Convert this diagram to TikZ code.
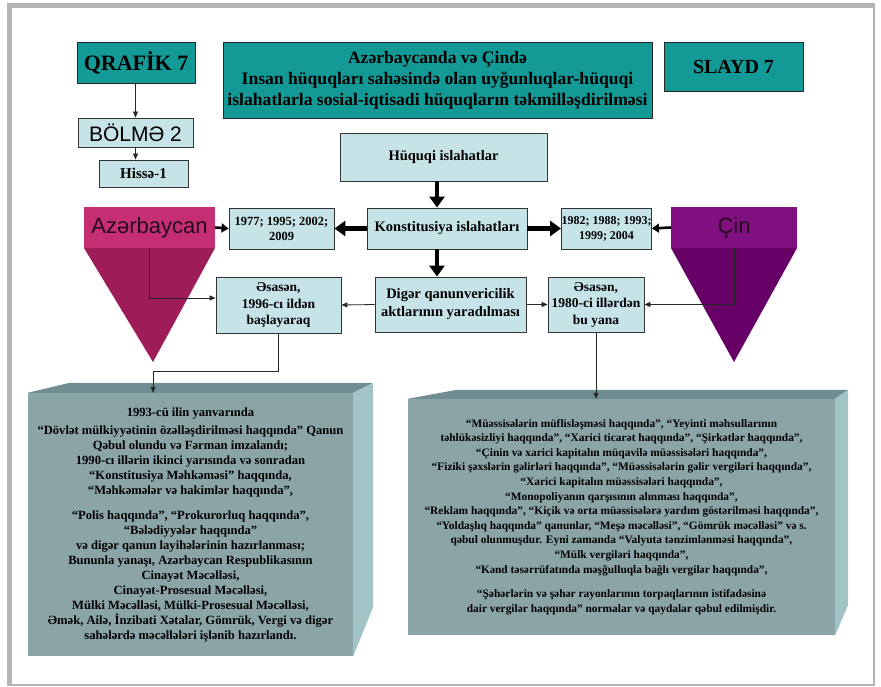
\documentclass[tikz,border=0pt]{standalone}
\usepackage{fontspec}
\setmainfont{Liberation Serif}
\setsansfont{Liberation Sans}
\usetikzlibrary{arrows.meta,calc}
\definecolor{tealc}{RGB}{20,154,150}
\definecolor{lbc}{RGB}{198,228,232}
\definecolor{framec}{RGB}{180,180,180}
\definecolor{azband}{RGB}{198,46,116}
\definecolor{aztri}{RGB}{158,28,88}
\definecolor{cinband}{RGB}{128,16,128}
\definecolor{cintri}{RGB}{102,0,102}
\definecolor{frontc}{RGB}{139,164,167}
\definecolor{topc}{RGB}{112,142,145}
\definecolor{sidec}{RGB}{162,196,199}
\definecolor{darkt}{RGB}{35,10,28}
\begin{document}
\begin{tikzpicture}[x=1pt,y=-1pt,
  tealbox/.style={draw=black!85, line width=0.9pt, fill=tealc, inner sep=0pt, align=center},
  bluebox/.style={draw=black!80, line width=0.9pt, fill=lbc, inner sep=0pt, align=center,
     font=\bfseries\fontsize{14.5}{16.5}\selectfont},
  bandbox/.style={inner sep=0pt, text=darkt, font=\sffamily\fontsize{22}{24}\selectfont},
  thinarr/.style={draw=black!85, line width=0.8pt, -{Triangle[length=6pt,width=5pt]}},
  thickarr/.style={draw=black, line width=4.5pt, -{Triangle[length=11pt,width=15pt]}},
  smallthick/.style={draw=black, line width=2.6pt, -{Triangle[length=7pt,width=9pt]}},
  bigface/.style={fill=frontc, inner sep=0pt, align=center}]
\useasboundingbox (0,0) rectangle (881,687);
\fill[white] (0,0) rectangle (881,687);
% frame
\fill[framec] (7,3) rectangle (875,8);
\fill[framec] (7,3) rectangle (12,686);
\fill[framec] (7,684) rectangle (875,686);
\fill[framec] (873,3) rectangle (875,686);

% top-left boxes
\node[tealbox, minimum width=118pt, minimum height=41pt,
  font=\bfseries\fontsize{22}{24}\selectfont] (qrafik) at (136,62.5) {QRAFİK 7};
\node[draw=black!80, line width=0.9pt, fill=lbc, inner sep=0pt, minimum width=115pt, minimum height=29pt,
  font=\sffamily\fontsize{21}{23}\selectfont] (bolme) at (135.5,132.5) {BÖLMƏ 2};
\node[bluebox, minimum width=89pt, minimum height=27pt, font=\bfseries\fontsize{15}{17}\selectfont]
  (hisse) at (143.5,173.5) {Hissə-1};
\draw[thinarr] (qrafik.south -| bolme.north) -- (bolme.north);
\draw[thinarr] (bolme.south) -- (bolme.south |- hisse.north);

% title and slide
\node[tealbox, minimum width=429pt, minimum height=76pt,
  font=\bfseries\fontsize{17.6}{21}\selectfont] (title) at (437.5,80)
  {Azərbaycanda  və Çində\\ Insan hüquqları sahəsində olan uyğunluqlar-hüquqi\\ islahatlarla sosial-iqtisadi hüquqların  təkmilləşdirilməsi};
\node[tealbox, minimum width=139pt, minimum height=49pt,
  font=\bfseries\fontsize{20}{22}\selectfont] (slayd) at (733.5,66.5) {SLAYD 7};

% central chain
\node[bluebox, minimum width=207pt, minimum height=48pt] (huquqi) at (443.5,157) {Hüquqi islahatlar};
\node[bluebox, minimum width=160pt, minimum height=41pt] (konst) at (447,228.5) {Konstitusiya islahatları};
\node[bluebox, minimum width=105pt, minimum height=41pt, font=\bfseries\fontsize{12.5}{15}\selectfont]
  (y1977) at (281.5,228.5) {1977; 1995; 2002;\\ 2009};
\node[bluebox, minimum width=89pt, minimum height=41pt, font=\bfseries\fontsize{12}{15}\selectfont]
  (y1982) at (606.5,228.5) {1982; 1988; 1993;\\ 1999; 2004};
\node[bluebox, minimum width=151pt, minimum height=55pt, font=\bfseries\fontsize{14.5}{18}\selectfont]
  (diger) at (450.5,304.5) {Digər qanunvericilik\\ aktlarının yaradılması};
\node[bluebox, minimum width=125pt, minimum height=56pt, font=\bfseries\fontsize{13.5}{16.5}\selectfont]
  (lbox) at (278.5,305) {Əsasən,\\ 1996-cı ildən\\ başlayaraq};
\node[bluebox, minimum width=96pt, minimum height=55pt, font=\bfseries\fontsize{13.5}{16.5}\selectfont]
  (rbox) at (596,304.5) {Əsasən,\\ 1980-ci illərdən\\ bu yana};

\coordinate (ax) at (437,0);
\draw[thickarr] (huquqi.south -| ax) -- (konst.north -| ax);
\draw[thickarr] (konst.south -| ax) -- (diger.north -| ax);
\draw[thickarr] (konst.west) -- (y1977.east);
\draw[thickarr] (konst.east) -- (y1982.west);
\draw[thinarr] (diger.west) -- (lbox.east);
\draw[thinarr] (diger.east) -- (rbox.west);

% triangles
\fill[aztri] (84,248) -- (215,248) -- (153,362) -- cycle;
\node[bandbox, fill=azband, minimum width=131pt, minimum height=41pt] (azb) at (149.5,227.5) {Azərbaycan};
\fill[cintri] (671,248) -- (797,248) -- (734,362) -- cycle;
\node[bandbox, fill=cinband, minimum width=126pt, minimum height=41pt] (cinb) at (734,227.5) {Çin};
\draw[smallthick] (azb.east) -- (y1977.west);
\draw[smallthick] (cinb.west) -- (y1982.east);
\draw[thinarr] (azb.south) |- ($(lbox.west)+(0,-7)$);
\draw[thinarr] (cinb.south) |- (rbox.east);

% left 3D box
\node[bigface, minimum width=325pt, minimum height=263pt,
  font=\bfseries\fontsize{12.6}{15}\selectfont] (lbig) at (190.5,524.5)
  {1993-cü ilin yanvarında\\[3pt]
   “Dövlət mülkiyyətinin özəlləşdirilməsi haqqında”  Qanun\\
   Qəbul olundu və Fərman imzalandı;\\
   1990-cı illərin ikinci  yarısında və sonradan\\
   “Konstitusiya Məhkəməsi” haqqında,\\
   “Məhkəmələr və hakimlər haqqında”,\\[10pt]
   “Polis  haqqında”, “Prokurorluq haqqında”,\\
   “Bələdiyyələr haqqında”\\
   və digər  qanun layihələrinin  hazırlanması;\\
   Bununla yanaşı, Azərbaycan Respublikasının\\
   Cinayət Məcəlləsi,\\
   Cinayət-Prosesual Məcəlləsi,\\
   Mülki Məcəlləsi,  Mülki-Prosesual Məcəlləsi,\\
   Əmək, Ailə,  İnzibati Xətalar, Gömrük, Vergi  və digər\\
   sahələrdə məcəllələri   işlənib  hazırlandı.};
\fill[topc] (lbig.north west) -- ++(42,-10) -- ($(lbig.north east)+(20,-10)$) -- (lbig.north east) -- cycle;
\fill[sidec] (lbig.north east) -- ++(20,-10) -- ++(0,224) -- (lbig.south east) -- cycle;

% right 3D box
\node[bigface, minimum width=427pt, minimum height=236pt,
  font=\bfseries\fontsize{11.4}{14.6}\selectfont] (rbig) at (621.5,517)
  {“Müəssisələrin müflisləşməsi  haqqında”, “Yeyinti məhsullarının\\
   təhlükəsizliyi haqqında”, “Xarici ticarət haqqında”, “Şirkətlər haqqında”,\\
   “Çinin  və xarici kapitalın müqavilə müəssisələri haqqında”,\\
   “Fiziki şəxslərin gəlirləri  haqqında”, “Müəssisələrin gəlir  vergiləri  haqqında”,\\
   “Xarici kapitalın müəssisələri haqqında”,\\
   “Monopoliyanın qarşısının alınması haqqında”,\\
   “Reklam haqqında”, “Kiçik və orta müəssisələrə  yardım göstərilməsi haqqında”,\\
   “Yoldaşlıq haqqında” qanunlar, “Meşə məcəlləsi”, “Gömrük məcəlləsi”  və s.\\
   qəbul olunmuşdur. Eyni zamanda “Valyuta tənzimlənməsi haqqında”,\\
   “Mülk vergiləri  haqqında”,\\
   “Kənd təsərrüfatında məşğulluqla bağlı vergilər  haqqında”,\\[10pt]
   “Şəhərlərin və şəhər  rayonlarının  torpaqlarının istifadəsinə\\
   dair vergilər  haqqında” normalar və qaydalar qəbul edilmişdir.};
\fill[topc] (rbig.north west) -- ++(49,-9) -- ($(rbig.north east)+(13,-9)$) -- (rbig.north east) -- cycle;
\fill[sidec] (rbig.north east) -- ++(13,-9) -- ++(0,215) -- (rbig.south east) -- cycle;

% connectors to 3D boxes
\coordinate (la) at ($(lbig.north west)!0.385!(lbig.north east)$);
\draw[thinarr] (lbox.south) |- ($(la)+(0,-21)$) -- (la);
\draw[thinarr] (rbox.south) -- (rbox.south |- rbig.north);
\end{tikzpicture}
\end{document}
